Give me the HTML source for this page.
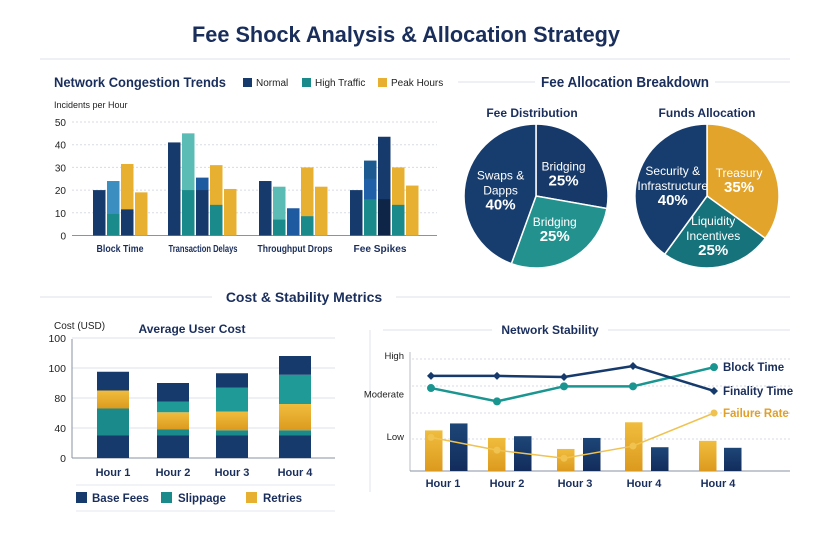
<!DOCTYPE html>
<html><head><meta charset="utf-8"><style>
html,body{margin:0;padding:0;background:#fff;}
svg{display:block;font-family:"Liberation Sans",sans-serif;}
</style></head><body>
<svg id="s" width="828" height="552" viewBox="0 0 828 552" xmlns="http://www.w3.org/2000/svg">
<defs>
<linearGradient id="gy" x1="0" y1="0" x2="0" y2="1"><stop offset="0" stop-color="#f0bd3e"/><stop offset="1" stop-color="#dc9a1e"/></linearGradient>
<linearGradient id="gn" x1="0" y1="0" x2="0" y2="1"><stop offset="0" stop-color="#1d4677"/><stop offset="1" stop-color="#122c5c"/></linearGradient>
</defs>
<text x="406" y="42" text-anchor="middle" font-size="22" font-weight="bold" fill="#1a2e5c" textLength="428" lengthAdjust="spacingAndGlyphs">Fee Shock Analysis &amp; Allocation Strategy</text>
<line x1="40" y1="59" x2="790" y2="59" stroke="#dde2ea"/>
<text x="54" y="87" font-size="13.5" font-weight="bold" fill="#1a2e5c" textLength="172" lengthAdjust="spacingAndGlyphs">Network Congestion Trends</text>
<g font-size="10" fill="#222">
<rect x="243" y="78" width="9" height="9" fill="#163a6c"/><text x="256" y="86">Normal</text>
<rect x="302" y="78" width="9" height="9" fill="#1a8a8a"/><text x="315" y="86">High Traffic</text>
<rect x="378" y="78" width="9" height="9" fill="#e8b030"/><text x="391" y="86">Peak Hours</text>
</g>
<text x="54" y="108" font-size="9" fill="#222">Incidents per Hour</text>
<g id="c1"></g>
<line x1="458" y1="82" x2="535" y2="82" stroke="#dde2ea"/><line x1="715" y1="82" x2="790" y2="82" stroke="#dde2ea"/>
<text x="625" y="87" text-anchor="middle" font-size="14.5" font-weight="bold" fill="#1a2e5c" textLength="168" lengthAdjust="spacingAndGlyphs">Fee Allocation Breakdown</text>
<text x="532" y="117" text-anchor="middle" font-size="12" font-weight="bold" fill="#1a2e5c">Fee Distribution</text>
<text x="707" y="117" text-anchor="middle" font-size="12" font-weight="bold" fill="#1a2e5c">Funds Allocation</text>
<g id="pies"></g>
<line x1="40" y1="297" x2="212" y2="297" stroke="#dde2ea"/><line x1="396" y1="297" x2="790" y2="297" stroke="#dde2ea"/>
<text x="304" y="302" text-anchor="middle" font-size="14" font-weight="bold" fill="#1a2e5c">Cost &amp; Stability Metrics</text>
<text x="54" y="329" font-size="10" fill="#222">Cost (USD)</text>
<text x="192" y="333" text-anchor="middle" font-size="12" font-weight="bold" fill="#1a2e5c">Average User Cost</text>
<g id="c2"></g>
<line x1="76" y1="485" x2="335" y2="485" stroke="#e4e7ec"/><line x1="76" y1="511" x2="335" y2="511" stroke="#e4e7ec"/>
<g font-size="11.5" font-weight="bold" fill="#1a2e5c">
<rect x="76" y="492" width="11" height="11" fill="#163a6c"/><text x="92" y="502">Base Fees</text>
<rect x="161" y="492" width="11" height="11" fill="#1a8a8a"/><text x="178" y="502">Slippage</text>
<rect x="246" y="492" width="11" height="11" fill="#e8b030"/><text x="263" y="502">Retries</text>
</g>
<line x1="370" y1="330" x2="370" y2="492" stroke="#e0e3e8"/>
<line x1="383" y1="330" x2="492" y2="330" stroke="#dde2ea"/><line x1="608" y1="330" x2="790" y2="330" stroke="#dde2ea"/>
<text x="550" y="334" text-anchor="middle" font-size="12" font-weight="bold" fill="#1a2e5c">Network Stability</text>
<g id="c3"></g>
</svg>
<script>
// ---------- Chart 1: congestion ----------
const c1Categories = ["Block Time","Transaction Delays","Throughput Drops","Fee Spikes"];
const c1Ticks = [0,10,20,30,40,50];
const c1Totals = [[20,24,31.5,19],[41,45,25.5,31,20.5],[24,21.5,12,30,21.5],[20,33,43.5,30,22]];
const c1Bases  = [[0,9.5,11.5,0],[0,20,20,13.5,0],[0,7,0,8.5,0],[0,16,16,13.5,0]];
const c1Mids   = [[0,0,0,0],[0,0,0,0,0],[0,0,0,0,0],[0,25,0,0,0]];
const c1TopColors = [["#163a6c","#3a8fc0","#e8b030","#e8b030"],["#163a6c","#5bbcb5","#1d5aa0","#e8b030","#e8b030"],["#163a6c","#5bbcb5","#1d5aa0","#e8b030","#e8b030"],["#163a6c","#1d5a90","#163a6c","#e8b030","#e8b030"]];
const c1BaseColors = [["#163a6c","#1a8a8a","#163a6c","#e8b030"],["#163a6c","#1a8a8a","#163a6c","#1a8a8a","#e8b030"],["#163a6c","#1a8a8a","#1d5aa0","#1a8a8a","#e8b030"],["#163a6c","#1a8a8a","#0f2548","#1a8a8a","#e8b030"]];
// ---------- Pies ----------
const pie1Labels = ["Bridging","Bridging","Swaps & Dapps"];
const pie1Values = [25,25,40];
const pie2Labels = ["Treasury","Liquidity Incentives","Security & Infrastructure"];
const pie2Values = [35,25,40];
// ---------- Chart 2: cost ----------
const c2Categories = ["Hour 1","Hour 2","Hour 3","Hour 4"];
const c2TickLabels = ["0","40","80","100","100"];
const c2BaseFees = [15,15,15,15];
const c2Slippage = [18,4,3.5,3.5];
const c2Retries = [12,11.5,12.5,17.5];
const c2Slippage2 = [0,7,16,19.5];
const c2TopFees = [12.5,12.5,9.5,12.5];
// ---------- Chart 3: stability ----------
const c3Categories = ["Hour 1","Hour 2","Hour 3","Hour 4","Hour 4"];
const c3LevelLabels = ["Low","Moderate","High"];
const c3LevelValues = [30,67,100];
const c3Finality = [82,82,81,90.5,69];
const c3Block = [71.5,60,73,73,89.5];
const c3Failure = [29,18,11,21.5,50];
const c3GoldBars = [35,28.5,19,42,26];
const c3NavyBars = [41,30,28.5,20.5,20];

const NS="http://www.w3.org/2000/svg";
function mk(tag,attrs,parent,text){const e=document.createElementNS(NS,tag);for(const k in attrs)e.setAttribute(k,attrs[k]);if(text!==undefined)e.textContent=text;parent.appendChild(e);return e;}

// chart 1
(function(){
const g=document.getElementById('c1');
const y=v=>235.5-v*2.27;
const gx=[93,168,259,350];
c1Ticks.forEach(t=>{
 const l=mk('line',{x1:72,x2:437,y1:y(t),y2:y(t),stroke:t===0?'#8a93a3':'#d7dbe2','stroke-dasharray':t===0?'':'2,2'},g);
 
 
 const tx=mk('text',{x:66,y:y(t)+4,'text-anchor':'end','font-size':10,fill:'#222'},g,String(t));
 
 
});
const labelX=[120,203,295,380], labelW=[47,69,75,53];
c1Categories.forEach((c,i)=>{
 c1Totals[i].forEach((tot,j)=>{
  const x=gx[i]+j*14;
  const r=mk('rect',{x:x,y:y(tot),width:12.5,height:y(0)-y(tot),fill:c1TopColors[i][j]},g);
  
  
  if(c1Mids[i][j]>0){const m=mk('rect',{x:x,y:y(c1Mids[i][j]),width:12.5,height:y(0)-y(c1Mids[i][j]),fill:'#2060a8'},g);
   
   }
  if(c1Bases[i][j]>0){const b=mk('rect',{x:x,y:y(c1Bases[i][j]),width:12.5,height:y(0)-y(c1Bases[i][j]),fill:c1BaseColors[i][j]},g);
   
   }
 });
 const t=mk('text',{x:labelX[i],y:252,'text-anchor':'middle','font-size':10,'font-weight':'bold',fill:'#1a2e5c',textLength:labelW[i],lengthAdjust:'spacingAndGlyphs'},g,c);
 
 
});
})();

// pies
(function(){
const g=document.getElementById('pies');
function pie(cx,cy,r,vals,colors,start,labelPos,lrs){
 const tot=vals.reduce((a,b)=>a+b,0);let a=start;
 vals.forEach((v,i)=>{
  const a2=a+v/tot*2*Math.PI;
  const p=(ang)=>[cx+r*Math.sin(ang),cy-r*Math.cos(ang)];
  const [x1,y1]=p(a),[x2,y2]=p(a2);
  const s=mk('path',{d:`M${cx},${cy}L${x1},${y1}A${r},${r} 0 ${a2-a>Math.PI?1:0} 1 ${x2},${y2}Z`,fill:colors[i],stroke:'#fff','stroke-width':1.5},g);
  
  
  const mid=(a+a2)/2, lr=r*lrs[i];
  const lx=cx+lr*Math.sin(mid), ly=cy-lr*Math.cos(mid);
  const lines=labelPos[i];
  lines.forEach((ln,k)=>{
   const last=k===lines.length-1;
   const t=mk('text',{x:lx,y:ly+(k-(lines.length-1)/2)*15+5,'text-anchor':'middle','font-size':last?15:12,'font-weight':last?'bold':'normal',fill:'#fff'},g,ln);
   
   
  });
  a=a2;
 });
}
pie(536,196,72,pie1Values,['#16396a','#23928f','#173d6e'],0,
 [[pie1Labels[0],pie1Values[0]+"%"],[pie1Labels[1],pie1Values[1]+"%"],["Swaps &","Dapps",pie1Values[2]+"%"]],[0.5,0.52,0.5]);
pie(707,196,72,pie2Values,['#e2a42a','#16737c','#173d6e'],0,
 [[pie2Labels[0],pie2Values[0]+"%"],["Liquidity","Incentives",pie2Values[1]+"%"],["Security &","Infrastructure",pie2Values[2]+"%"]],[0.5,0.55,0.5]);
})();

// chart 2
(function(){
const g=document.getElementById('c2');
const y=v=>458-v*1.5;
c2TickLabels.forEach((t,i)=>{
 const yy=y(i*20);
 const l=mk('line',{x1:72,x2:335,y1:yy,y2:yy,stroke:i===0?'#8a93a3':'#dfe2e7'},g);
 
 
 const tx=mk('text',{x:66,y:yy+4,'text-anchor':'end','font-size':10.5,fill:'#222'},g,t);
 
 
});
mk('line',{x1:72,x2:72,y1:339,y2:458,stroke:'#8a93a3'},g);
const xs=[97,157,216,279];
const series=[[c2BaseFees,'#163a6c'],[c2Slippage,'#1a8a8a'],[c2Retries,'url(#gy)'],[c2Slippage2,'#1f9a97'],[c2TopFees,'#163a6c']];
c2Categories.forEach((c,i)=>{
 let acc=0;
 series.forEach(([arr,col])=>{
  const v=arr[i]; if(v<=0)return;
  const r=mk('rect',{x:xs[i],y:y(acc+v),width:32,height:v*1.5,fill:col},g);
  
  
  acc+=v;
 });
 const t=mk('text',{x:xs[i]+16,y:476,'text-anchor':'middle','font-size':11,'font-weight':'bold',fill:'#1a2e5c'},g,c);
 
 
});
})();

// chart 3
(function(){
const g=document.getElementById('c3');
const y=v=>471-v*1.16;
[359,386,413,439].forEach(yy=>{mk('line',{x1:412,x2:790,y1:yy,y2:yy,stroke:'#d7dbe2','stroke-dasharray':'2,2'},g);});
mk('line',{x1:410,x2:410,y1:352,y2:471,stroke:'#b8bec8'},g);
mk('line',{x1:410,x2:790,y1:471,y2:471,stroke:'#8a93a3'},g);
c3LevelLabels.forEach((l,i)=>{
 const t=mk('text',{x:404,y:y(c3LevelValues[i])+4,'text-anchor':'end','font-size':9.5,fill:'#222'},g,l);
 
 
});
const gxs=[425,488,557,625,699], nxs=[450,514,583,651,724];
c3Categories.forEach((c,i)=>{
 const a=mk('rect',{x:gxs[i],y:y(c3GoldBars[i]),width:17.5,height:c3GoldBars[i]*1.16,fill:'url(#gy)'},g);
 
 
 const b=mk('rect',{x:nxs[i],y:y(c3NavyBars[i]),width:17.5,height:c3NavyBars[i]*1.16,fill:'url(#gn)'},g);
 
 
 const t=mk('text',{x:[443,507,575,644,718][i],y:487,'text-anchor':'middle','font-size':11,'font-weight':'bold',fill:'#1a2e5c'},g,c);
 
 
});
const px=[431,497,564,633,714];
function line(vals,col,w,r,name,shape){
 const pts=vals.map((v,i)=>px[i]+','+y(v)).join(' ');
 const pl=mk('polyline',{points:pts,fill:'none',stroke:col,'stroke-width':w},g);
 
 
 vals.forEach((v,i)=>{
  let m;
  if(shape==='d'){m=mk('path',{d:`M${px[i]},${y(v)-r}l${r},${r}l${-r},${r}l${-r},${-r}z`,fill:col},g);}
  else m=mk('circle',{cx:px[i],cy:y(v),r:r,fill:col},g);
  
  
 });
}
line(c3Failure,'#f0c250',1.5,3.5,'failure-rate','c');
line(c3Block,'#1a9590',2.5,4,'block-time','c');
line(c3Finality,'#163a6c',2.5,4,'finality-time','d');
[['Block Time','#1a2e5c',367],['Finality Time','#1a2e5c',391],['Failure Rate','#e0a02a',413]].forEach(([t,c,yy])=>{
 const e=mk('text',{x:723,y:yy+4,'font-size':11.5,'font-weight':'bold',fill:c},g,t);
 
 
});
})();
</script>
</body></html>
